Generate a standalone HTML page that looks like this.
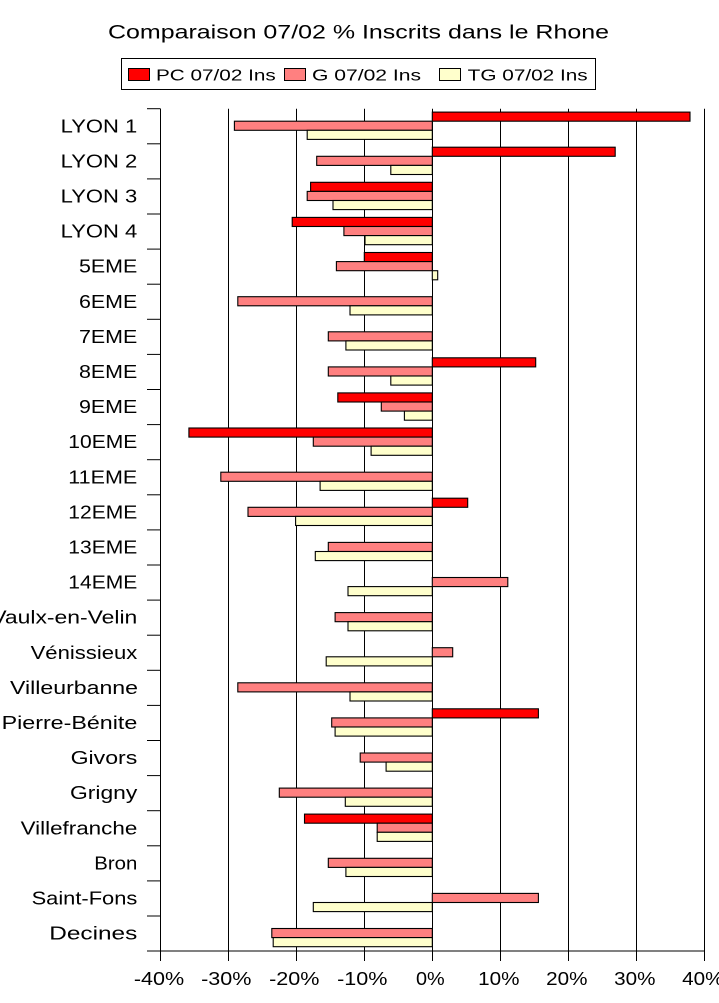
<!DOCTYPE html>
<html><head><meta charset="utf-8"><style>
html,body{margin:0;padding:0;background:#fff;}
svg{display:block;}
text{font-family:"Liberation Sans",Arial,sans-serif;fill:#000;}
</style></head><body>
<svg width="719" height="1003" viewBox="0 0 719 1003" xmlns="http://www.w3.org/2000/svg">
<rect x="0" y="0" width="719" height="1003" fill="#fff"/>
<!-- title -->
<text x="108" y="38.3" font-size="19" textLength="501" lengthAdjust="spacingAndGlyphs">Comparaison 07/02 % Inscrits dans le Rhone</text>
<!-- legend -->
<rect x="121.5" y="58.5" width="474" height="31" fill="#fff" stroke="#000" stroke-width="1"/>
<rect x="128.5" y="68.5" width="21" height="12" fill="#FF0000" stroke="#000" stroke-width="1"/>
<text x="156" y="80.6" font-size="16" textLength="119.7" lengthAdjust="spacingAndGlyphs">PC 07/02 Ins</text>
<rect x="284.5" y="68.5" width="21" height="12" fill="#FF8080" stroke="#000" stroke-width="1"/>
<text x="312" y="80.6" font-size="16" textLength="109" lengthAdjust="spacingAndGlyphs">G 07/02 Ins</text>
<rect x="439.5" y="68.5" width="21" height="12" fill="#FFFFCC" stroke="#000" stroke-width="1"/>
<text x="467.7" y="80.6" font-size="16" textLength="120" lengthAdjust="spacingAndGlyphs">TG 07/02 Ins</text>

<!-- gridlines -->
<g stroke="#000" stroke-width="1">
<line x1="228.5" y1="108.7" x2="228.5" y2="961"/>
<line x1="296.5" y1="108.7" x2="296.5" y2="961"/>
<line x1="364.5" y1="108.7" x2="364.5" y2="961"/>
<line x1="432.5" y1="108.7" x2="432.5" y2="961"/>
<line x1="500.5" y1="108.7" x2="500.5" y2="961"/>
<line x1="568.5" y1="108.7" x2="568.5" y2="961"/>
<line x1="636.5" y1="108.7" x2="636.5" y2="961"/>
<line x1="704.5" y1="108.7" x2="704.5" y2="961"/>
<line x1="160.5" y1="108.7" x2="160.5" y2="961"/>
<line x1="160.5" y1="951" x2="704.5" y2="951"/>
</g>
<!-- left ticks -->
<g stroke="#000" stroke-width="1">
<line x1="147" y1="108.7" x2="160.5" y2="108.7"/>
<line x1="147" y1="143.8" x2="160.5" y2="143.8"/>
<line x1="147" y1="178.9" x2="160.5" y2="178.9"/>
<line x1="147" y1="214.0" x2="160.5" y2="214.0"/>
<line x1="147" y1="249.1" x2="160.5" y2="249.1"/>
<line x1="147" y1="284.2" x2="160.5" y2="284.2"/>
<line x1="147" y1="319.3" x2="160.5" y2="319.3"/>
<line x1="147" y1="354.4" x2="160.5" y2="354.4"/>
<line x1="147" y1="389.5" x2="160.5" y2="389.5"/>
<line x1="147" y1="424.6" x2="160.5" y2="424.6"/>
<line x1="147" y1="459.7" x2="160.5" y2="459.7"/>
<line x1="147" y1="494.8" x2="160.5" y2="494.8"/>
<line x1="147" y1="529.9" x2="160.5" y2="529.9"/>
<line x1="147" y1="565.0" x2="160.5" y2="565.0"/>
<line x1="147" y1="600.1" x2="160.5" y2="600.1"/>
<line x1="147" y1="635.2" x2="160.5" y2="635.2"/>
<line x1="147" y1="670.3" x2="160.5" y2="670.3"/>
<line x1="147" y1="705.4" x2="160.5" y2="705.4"/>
<line x1="147" y1="740.5" x2="160.5" y2="740.5"/>
<line x1="147" y1="775.6" x2="160.5" y2="775.6"/>
<line x1="147" y1="810.7" x2="160.5" y2="810.7"/>
<line x1="147" y1="845.8" x2="160.5" y2="845.8"/>
<line x1="147" y1="880.9" x2="160.5" y2="880.9"/>
<line x1="147" y1="916.0" x2="160.5" y2="916.0"/>
<line x1="147" y1="951.0" x2="160.5" y2="951.0"/>
</g>

<!-- bars -->
<g stroke="#000" stroke-width="1.1">
<rect x="432.3" y="112.1" width="257.7" height="9.1" fill="#FF0000"/>
<rect x="234.4" y="121.2" width="197.9" height="9.1" fill="#FF8080"/>
<rect x="307.2" y="130.3" width="125.1" height="9.1" fill="#FFFFCC"/>
<rect x="432.3" y="147.2" width="182.9" height="9.1" fill="#FF0000"/>
<rect x="316.7" y="156.3" width="115.6" height="9.1" fill="#FF8080"/>
<rect x="390.8" y="165.4" width="41.5" height="9.1" fill="#FFFFCC"/>
<rect x="310.6" y="182.3" width="121.7" height="9.1" fill="#FF0000"/>
<rect x="307.2" y="191.4" width="125.1" height="9.1" fill="#FF8080"/>
<rect x="333.0" y="200.5" width="99.3" height="9.1" fill="#FFFFCC"/>
<rect x="292.2" y="217.4" width="140.1" height="9.1" fill="#FF0000"/>
<rect x="343.9" y="226.5" width="88.4" height="9.1" fill="#FF8080"/>
<rect x="365.0" y="235.6" width="67.3" height="9.1" fill="#FFFFCC"/>
<rect x="364.3" y="252.5" width="68" height="9.1" fill="#FF0000"/>
<rect x="336.4" y="261.6" width="95.9" height="9.1" fill="#FF8080"/>
<rect x="432.3" y="270.7" width="5.4" height="9.1" fill="#FFFFCC"/>
<rect x="237.8" y="296.7" width="194.5" height="9.1" fill="#FF8080"/>
<rect x="350.0" y="305.8" width="82.3" height="9.1" fill="#FFFFCC"/>
<rect x="328.3" y="331.8" width="104" height="9.1" fill="#FF8080"/>
<rect x="345.9" y="340.9" width="86.4" height="9.1" fill="#FFFFCC"/>
<rect x="432.3" y="357.8" width="103.4" height="9.1" fill="#FF0000"/>
<rect x="328.3" y="366.9" width="104" height="9.1" fill="#FF8080"/>
<rect x="390.8" y="376.0" width="41.5" height="9.1" fill="#FFFFCC"/>
<rect x="337.8" y="392.9" width="94.5" height="9.1" fill="#FF0000"/>
<rect x="381.3" y="402.0" width="51" height="9.1" fill="#FF8080"/>
<rect x="404.4" y="411.1" width="27.9" height="9.1" fill="#FFFFCC"/>
<rect x="188.9" y="428.0" width="243.4" height="9.1" fill="#FF0000"/>
<rect x="313.3" y="437.1" width="119" height="9.1" fill="#FF8080"/>
<rect x="371.1" y="446.2" width="61.2" height="9.1" fill="#FFFFCC"/>
<rect x="220.8" y="472.2" width="211.5" height="9.1" fill="#FF8080"/>
<rect x="320.1" y="481.3" width="112.2" height="9.1" fill="#FFFFCC"/>
<rect x="432.3" y="498.2" width="35.4" height="9.1" fill="#FF0000"/>
<rect x="248.0" y="507.3" width="184.3" height="9.1" fill="#FF8080"/>
<rect x="295.6" y="516.4" width="136.7" height="9.1" fill="#FFFFCC"/>
<rect x="328.3" y="542.4" width="104" height="9.1" fill="#FF8080"/>
<rect x="315.3" y="551.5" width="117" height="9.1" fill="#FFFFCC"/>
<rect x="432.3" y="577.5" width="75.5" height="9.1" fill="#FF8080"/>
<rect x="348.0" y="586.6" width="84.3" height="9.1" fill="#FFFFCC"/>
<rect x="335.1" y="612.6" width="97.2" height="9.1" fill="#FF8080"/>
<rect x="348.0" y="621.7" width="84.3" height="9.1" fill="#FFFFCC"/>
<rect x="432.3" y="647.7" width="20.4" height="9.1" fill="#FF8080"/>
<rect x="326.2" y="656.8" width="106.1" height="9.1" fill="#FFFFCC"/>
<rect x="237.8" y="682.8" width="194.5" height="9.1" fill="#FF8080"/>
<rect x="350.0" y="691.9" width="82.3" height="9.1" fill="#FFFFCC"/>
<rect x="432.3" y="708.8" width="106.1" height="9.1" fill="#FF0000"/>
<rect x="331.7" y="717.9" width="100.6" height="9.1" fill="#FF8080"/>
<rect x="335.1" y="727.0" width="97.2" height="9.1" fill="#FFFFCC"/>
<rect x="360.2" y="753.0" width="72.1" height="9.1" fill="#FF8080"/>
<rect x="386.1" y="762.1" width="46.2" height="9.1" fill="#FFFFCC"/>
<rect x="279.3" y="788.1" width="153" height="9.1" fill="#FF8080"/>
<rect x="345.3" y="797.2" width="87" height="9.1" fill="#FFFFCC"/>
<rect x="304.5" y="814.1" width="127.8" height="9.1" fill="#FF0000"/>
<rect x="377.2" y="823.2" width="55.1" height="9.1" fill="#FF8080"/>
<rect x="377.2" y="832.3" width="55.1" height="9.1" fill="#FFFFCC"/>
<rect x="328.3" y="858.3" width="104" height="9.1" fill="#FF8080"/>
<rect x="345.9" y="867.4" width="86.4" height="9.1" fill="#FFFFCC"/>
<rect x="432.3" y="893.4" width="106.1" height="9.1" fill="#FF8080"/>
<rect x="313.3" y="902.5" width="119" height="9.1" fill="#FFFFCC"/>
<rect x="271.8" y="928.5" width="160.5" height="9.1" fill="#FF8080"/>
<rect x="273.2" y="937.6" width="159.1" height="9.1" fill="#FFFFCC"/>
</g>

<!-- category labels -->
<g font-size="18.6">
<text x="60.6" y="132.3" textLength="76.7" lengthAdjust="spacingAndGlyphs">LYON 1</text>
<text x="60.6" y="167.4" textLength="76.7" lengthAdjust="spacingAndGlyphs">LYON 2</text>
<text x="60.6" y="202.5" textLength="76.7" lengthAdjust="spacingAndGlyphs">LYON 3</text>
<text x="60.6" y="237.6" textLength="76.7" lengthAdjust="spacingAndGlyphs">LYON 4</text>
<text x="79" y="272.7" textLength="58.3" lengthAdjust="spacingAndGlyphs">5EME</text>
<text x="79" y="307.8" textLength="58.3" lengthAdjust="spacingAndGlyphs">6EME</text>
<text x="79" y="342.9" textLength="58.3" lengthAdjust="spacingAndGlyphs">7EME</text>
<text x="79" y="378.0" textLength="58.3" lengthAdjust="spacingAndGlyphs">8EME</text>
<text x="79" y="413.1" textLength="58.3" lengthAdjust="spacingAndGlyphs">9EME</text>
<text x="68.3" y="448.2" textLength="69" lengthAdjust="spacingAndGlyphs">10EME</text>
<text x="68.3" y="483.3" textLength="69" lengthAdjust="spacingAndGlyphs">11EME</text>
<text x="68.3" y="518.4" textLength="69" lengthAdjust="spacingAndGlyphs">12EME</text>
<text x="68.3" y="553.5" textLength="69" lengthAdjust="spacingAndGlyphs">13EME</text>
<text x="68.3" y="588.6" textLength="69" lengthAdjust="spacingAndGlyphs">14EME</text>
<text x="-8.7" y="623.7" textLength="146" lengthAdjust="spacingAndGlyphs">Vaulx-en-Velin</text>
<text x="30.6" y="658.8" textLength="106.7" lengthAdjust="spacingAndGlyphs">Vénissieux</text>
<text x="10" y="693.9" textLength="128" lengthAdjust="spacingAndGlyphs">Villeurbanne</text>
<text x="1.6" y="729.0" textLength="135.7" lengthAdjust="spacingAndGlyphs">Pierre-Bénite</text>
<text x="70.6" y="764.1" textLength="66.7" lengthAdjust="spacingAndGlyphs">Givors</text>
<text x="70" y="799.2" textLength="67.3" lengthAdjust="spacingAndGlyphs">Grigny</text>
<text x="20.6" y="834.3" textLength="116.7" lengthAdjust="spacingAndGlyphs">Villefranche</text>
<text x="94.3" y="869.4" textLength="43" lengthAdjust="spacingAndGlyphs">Bron</text>
<text x="31.6" y="904.5" textLength="105.7" lengthAdjust="spacingAndGlyphs">Saint-Fons</text>
<text x="49.3" y="939.6" textLength="88" lengthAdjust="spacingAndGlyphs">Decines</text>
</g>

<!-- x tick labels -->
<g font-size="18">
<text x="133.9" y="985" textLength="50.3" lengthAdjust="spacingAndGlyphs">-40%</text>
<text x="201.1" y="985" textLength="50.3" lengthAdjust="spacingAndGlyphs">-30%</text>
<text x="269.1" y="985" textLength="50.3" lengthAdjust="spacingAndGlyphs">-20%</text>
<text x="337.1" y="985" textLength="50.3" lengthAdjust="spacingAndGlyphs">-10%</text>
<text x="416.0" y="985" textLength="28.7" lengthAdjust="spacingAndGlyphs">0%</text>
<text x="478.2" y="985" textLength="41.3" lengthAdjust="spacingAndGlyphs">10%</text>
<text x="546.2" y="985" textLength="41.3" lengthAdjust="spacingAndGlyphs">20%</text>
<text x="614.2" y="985" textLength="41.3" lengthAdjust="spacingAndGlyphs">30%</text>
<text x="682.2" y="985" textLength="41.3" lengthAdjust="spacingAndGlyphs">40%</text>
</g>
</svg>
</body></html>
